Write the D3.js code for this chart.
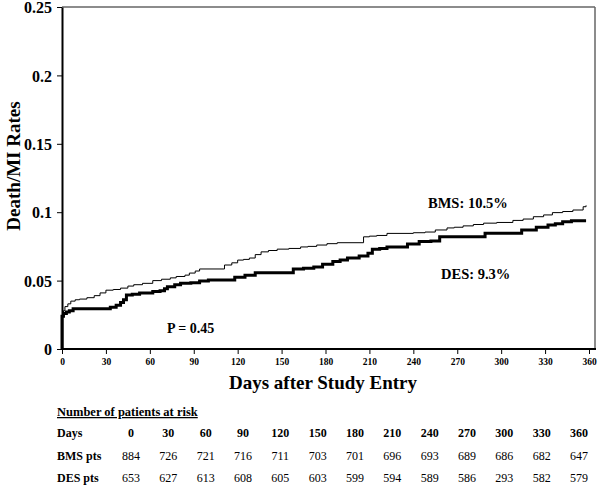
<!DOCTYPE html>
<html><head><meta charset="utf-8">
<script src="https://cdn.jsdelivr.net/npm/d3@7/dist/d3.min.js"></script>
<style>
body{margin:0;background:#fff;}
svg{display:block;font-family:"Liberation Serif","Times New Roman",serif;}
</style></head>
<body><svg id="c" width="600" height="488"></svg>
<script>
const bmsDays = [0,0,0.5,1,2,4,6,9,12,17,22,26,30,35,40,45,49,55,62,68,74,78,84,87,91,94,111,116,120,124,128,132,136,141,147,155,163,168,174,181,188,206,210,215,222,240,248,255,263,268,274,281,288,297,308,315,322,329,335,342,349,356,358];
const bmsVals = [0,0.024,0.026,0.028,0.031,0.033,0.035,0.036,0.0365,0.0375,0.039,0.041,0.043,0.0435,0.0445,0.046,0.047,0.048,0.050,0.051,0.052,0.053,0.054,0.0555,0.057,0.0585,0.0614,0.063,0.065,0.0655,0.0665,0.069,0.071,0.072,0.073,0.0735,0.0746,0.075,0.076,0.077,0.0777,0.082,0.0825,0.083,0.0845,0.085,0.0855,0.087,0.0885,0.089,0.090,0.091,0.092,0.0925,0.094,0.095,0.0967,0.098,0.0997,0.1005,0.1016,0.104,0.105];
const desDays = [0,0,1,3,5,7.6,33,37,40,42,44,48,53,62,67,70,72,77,81,88,94,100,118,125,132,158,165,172,178,185,190,195,203,209,212,217,222,236,244,252,258,289,314,324,332,337,342,348,358];
const desVals = [0,0.024,0.026,0.027,0.028,0.0295,0.0305,0.032,0.034,0.036,0.0395,0.040,0.041,0.042,0.0425,0.044,0.0455,0.047,0.048,0.0485,0.0497,0.0504,0.0525,0.054,0.0557,0.0585,0.059,0.060,0.062,0.064,0.065,0.0665,0.068,0.070,0.073,0.0735,0.0745,0.0767,0.0785,0.079,0.082,0.0846,0.087,0.089,0.0906,0.0915,0.093,0.0937,0.0937];
const xTicks = [0,30,60,90,120,150,180,210,240,270,300,330,360];
const yTicks = [0,0.05,0.1,0.15,0.2,0.25];
const riskDays = [0,30,60,90,120,150,180,210,240,270,300,330,360];
const bmsRisk = [884,726,721,716,711,703,701,696,693,689,686,682,647];
const desRisk = [653,627,613,608,605,603,599,594,589,586,293,582,579];

const svg = d3.select("#c");
const x = d3.scaleLinear().domain([0,360]).range([62,589]);
const y = d3.scaleLinear().domain([0,0.25]).range([349,7]);

// frame top/right
svg.append("line").attr("x1",62).attr("x2",595).attr("y1",7).attr("y2",7).attr("stroke","#666").attr("stroke-width",1.5);
svg.append("line").attr("x1",595).attr("x2",595).attr("y1",7).attr("y2",349).attr("stroke","#666").attr("stroke-width",1.5);

const line = d3.line().curve(d3.curveStepAfter);
svg.append("path").attr("d",line(bmsDays.map((d,i)=>[x(d),y(bmsVals[i])])))
  .attr("fill","none").attr("stroke","#000").attr("stroke-width",1);
svg.append("path").attr("d",line(desDays.map((d,i)=>[x(d),y(desVals[i])])))
  .attr("fill","none").attr("stroke","#000").attr("stroke-width",3);

// y axis
const ya = svg.append("g").attr("transform","translate(62,0)")
  .call(d3.axisLeft(y).tickValues(yTicks).tickFormat(d=>d===0?"0":String(+d.toFixed(2))).tickSize(5).tickSizeOuter(0));
ya.select(".domain").attr("stroke","#000").attr("stroke-width",2);
ya.selectAll(".tick line").attr("stroke","#000").attr("stroke-width",1);
ya.selectAll(".tick text").attr("font-family","Liberation Serif").attr("font-size",16).attr("font-weight","bold").attr("fill","#000").attr("x",-10).attr("dy","0.35em");

// x axis
const xa = svg.append("g").attr("transform","translate(0,349)")
  .call(d3.axisBottom(x).tickValues(xTicks).tickSize(5).tickSizeOuter(0));
xa.select(".domain").attr("stroke","#000").attr("stroke-width",2).attr("d","M61,0H596");
xa.selectAll(".tick line").attr("stroke","#000").attr("stroke-width",1);
xa.selectAll(".tick text").attr("font-family","Liberation Serif").attr("font-size",9.5).attr("font-weight","bold").attr("fill","#000").attr("y",9);

// axis titles
svg.append("text").attr("x",323).attr("y",389).attr("text-anchor","middle")
  .attr("font-size",19).attr("font-weight","bold").text("Days after Study Entry");
svg.append("text").attr("transform","translate(20,166) rotate(-90)").attr("text-anchor","middle")
  .attr("font-size",19).attr("font-weight","bold").text("Death/MI Rates");

// annotations
svg.append("text").attr("x",428).attr("y",208).attr("font-size",14.5).attr("font-weight","bold").text("BMS: 10.5%");
svg.append("text").attr("x",441).attr("y",279).attr("font-size",14.5).attr("font-weight","bold").text("DES: 9.3%");
svg.append("text").attr("x",167).attr("y",333).attr("font-size",14).attr("font-weight","bold").text("P = 0.45");

// risk table
svg.append("text").attr("x",57).attr("y",416).attr("font-size",12.5).attr("font-weight","bold")
  .attr("text-decoration","underline").text("Number of patients at risk");
const colX = i => 131 + i*37.33;
const rows = [["Days",riskDays,true,437],["BMS pts",bmsRisk,false,460],["DES pts",desRisk,false,482]];
rows.forEach(r=>{
  svg.append("text").attr("x",57).attr("y",r[3]).attr("font-size",12).attr("font-weight","bold").text(r[0]);
  svg.selectAll(null).data(r[1]).enter().append("text")
    .attr("x",(d,i)=>colX(i)).attr("y",r[3]).attr("text-anchor","middle")
    .attr("font-size",12).attr("font-weight",r[2]?"bold":"normal").text(d=>d);
});
</script></body></html>
